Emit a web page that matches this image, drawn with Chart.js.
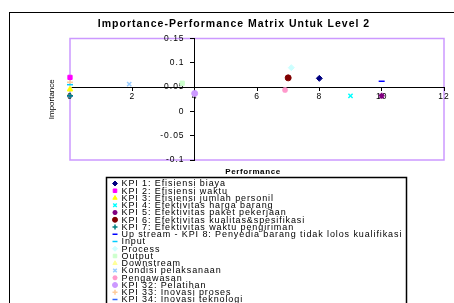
<!DOCTYPE html>
<html>
<head>
<meta charset="utf-8">
<script src="https://cdn.jsdelivr.net/npm/chart.js@4/dist/chart.umd.min.js"></script>
<style>
    body { margin: 0; background: #fff; overflow: hidden; }
    #frame { position: absolute; left: 9px; top: 12px; width: 480px; height: 330px; border: 1px solid #000; }
    #ipm { position: absolute; left: 0; top: 0; }
</style>
</head>
<body>
<div id="frame"></div>
<canvas id="ipm" width="454" height="303"></canvas>
<script>
// series: x = performance, y = importance
const seriesNames = [
    'KPI 1: Efisiensi biaya',
    'KPI 2: Efisiensi waktu',
    'KPI 3: Efisiensi jumlah personil',
    'KPI 4: Efektivitas harga barang',
    'KPI 5: Efektivitas paket pekerjaan',
    'KPI 6: Efektivitas kualitas&spesifikasi',
    'KPI 7: Efektivitas waktu pengiriman',
    'Up stream - KPI 8: Penyedia barang tidak lolos kualifikasi',
    'Input',
    'Process',
    'Output',
    'Downstream',
    'Kondisi pelaksanaan',
    'Pengawasan',
    'KPI 32: Pelatihan',
    'KPI 33: Inovasi proses',
    'KPI 34: Inovasi teknologi'
];
const performance = [8, 0, 0, 9, 10, 7, 0, 10, 0, 7.1, 3.6, 0, 1.9, 6.9, 4, 0, 0];
const importance = [0.068, 0.070, 0.045, 0.032, 0.032, 0.069, 0.032, 0.062, 0.055, 0.090, 0.058, 0.047, 0.056, 0.044, 0.037, 0.060, 0.032];
const xTicks = [0, 2, 4, 6, 8, 10, 12];
const yTicks = [-0.1, -0.05, 0, 0.05, 0.1, 0.15];

const markerColors = ['#000080', '#ff00ff', '#ffff00', '#00ffff', '#800080', '#800000', '#008080', '#0000ff',
    '#00ccff', '#ccffff', '#ccffcc', '#ffff99', '#99ccff', '#ff99cc', '#cc99ff', '#ffcc99', '#3366ff'];
const markerShapes = ['rectRot', 'rect', 'triangle', 'crossRot', 'star', 'circle', 'cross', 'line',
    'line', 'rectRot', 'rect', 'triangle', 'crossRot', 'star', 'circle', 'cross', 'line'];

const FONT = 'Liberation Sans, Arial, sans-serif';
const thin = ['cross', 'crossRot', 'star', 'line'];

const datasets = seriesNames.map((name, i) => ({
    label: name,
    data: [{ x: performance[i], y: importance[i] }],
    pointStyle: markerShapes[i],
    pointRadius: 3,
    pointBorderWidth: thin.includes(markerShapes[i]) ? 1.5 : 1,
    backgroundColor: markerColors[i],
    borderColor: markerColors[i],
    clip: false
}));

function drawMarker(ctx, shape, color, x, y) {
    ctx.save();
    ctx.fillStyle = color;
    ctx.strokeStyle = color;
    ctx.lineWidth = thin.includes(shape) ? 1.5 : 1;
    Chart.helpers.drawPoint(ctx, { pointStyle: shape, radius: 2.5, rotation: 0, borderWidth: ctx.lineWidth }, x, y);
    ctx.restore();
}

const decor = {
    id: 'decor',
    beforeDraw(chart) {
        const { ctx, chartArea: a } = chart;
        ctx.save();
        ctx.strokeStyle = '#cc99ff';
        ctx.lineWidth = 1.5;
        ctx.strokeRect(a.left, a.top, a.right - a.left, a.bottom - a.top);
        ctx.restore();
        // excel-like wide tick text
        ctx.letterSpacing = '1px';
    },
    afterDraw(chart) {
        const { ctx, chartArea: a } = chart;
        ctx.save();
        ctx.fillStyle = '#000';
        ctx.textAlign = 'center';
        ctx.textBaseline = 'middle';
        ctx.letterSpacing = '1px';
        ctx.font = 'bold 10.5px ' + FONT;
        ctx.fillText('Importance-Performance Matrix Untuk Level 2', 234, 24);
        ctx.letterSpacing = '0.6px';
        ctx.font = 'bold 8px ' + FONT;
        ctx.fillText('Performance', 253, 172);
        ctx.save();
        ctx.translate(52, (a.top + a.bottom) / 2);
        ctx.rotate(-Math.PI / 2);
        ctx.letterSpacing = '0px';
        ctx.font = '8px ' + FONT;
        ctx.fillText('Importance', 0, 0);
        ctx.restore();

        // legend box, one entry per line
        ctx.letterSpacing = '0px';
        ctx.strokeStyle = '#000';
        ctx.lineWidth = 1.5;
        ctx.strokeRect(106.5, 177.5, 300, 200);
        ctx.textAlign = 'left';
        ctx.font = '9px ' + FONT;
        chart.data.datasets.forEach((ds, i) => {
            const y = 183.5 + i * 7.25;
            drawMarker(ctx, ds.pointStyle, ds.backgroundColor, 115, y);
            ctx.fillStyle = '#000';
            ctx.letterSpacing = '0.9px';
            ctx.fillText(ds.label, 121.5, y + 0.5);
            ctx.letterSpacing = '0px';
        });
        ctx.restore();
    }
};

new Chart(document.getElementById('ipm'), {
    type: 'scatter',
    data: { datasets: datasets },
    plugins: [decor],
    options: {
        responsive: false,
        animation: false,
        devicePixelRatio: 1,
        layout: { padding: { left: 70, right: 10, top: 38.5, bottom: 143 } },
        scales: {
            x: {
                type: 'linear',
                min: 0,
                max: 12,
                position: { y: 0.05 },
                afterBuildTicks: (s) => { s.ticks = xTicks.map(v => ({ value: v })); },
                ticks: { color: '#000', font: { family: FONT, size: 8.5 }, padding: 1, maxRotation: 0 },
                grid: { drawOnChartArea: false, tickLength: 3, color: '#000' },
                border: { color: '#000', width: 1 }
            },
            y: {
                type: 'linear',
                min: -0.1,
                max: 0.15,
                position: { x: 4 },
                afterBuildTicks: (s) => { s.ticks = yTicks.map(v => ({ value: v })); },
                // labels sit right-aligned on the crossing axis, so pad them with spaces
                ticks: { color: '#000', font: { family: FONT, size: 8.5 }, callback: (v) => (Math.round(v * 100) / 100) + '   ' },
                grid: { drawOnChartArea: false, tickLength: 4, color: '#000' },
                border: { color: '#000', width: 1 }
            }
        },
        plugins: {
            legend: { display: false },
            title: { display: false },
            tooltip: { enabled: false }
        }
    }
});
</script>
</body>
</html>
